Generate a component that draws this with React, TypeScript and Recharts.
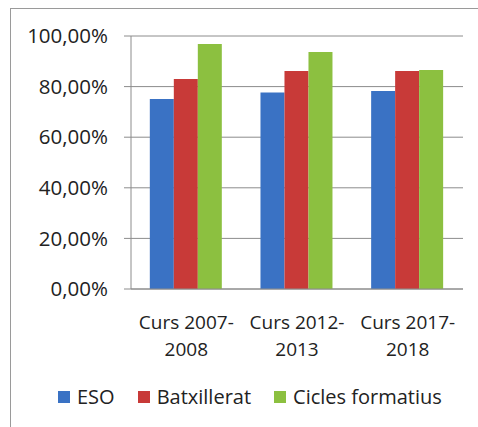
import { BarChart, Bar, XAxis, YAxis, CartesianGrid } from 'recharts';

const courses = ['Curs 2007-2008', 'Curs 2012-2013', 'Curs 2017-2018'];
const eso = [0.751, 0.777, 0.783];
const batxillerat = [0.83, 0.862, 0.862];
const cicles = [0.968, 0.937, 0.866];
const yTicks = [0, 0.2, 0.4, 0.6, 0.8, 1];

const series = [
  { key: 'eso', name: 'ESO', color: '#3a72c4' },
  { key: 'batx', name: 'Batxillerat', color: '#c83a38' },
  { key: 'cicles', name: 'Cicles formatius', color: '#8cc040' },
];

const data = courses.map((c, i) => ({
  course: c,
  eso: eso[i],
  batx: batxillerat[i],
  cicles: cicles[i],
}));

const FONT = '"Open Sans", sans-serif';

function pct(v: number) {
  return (v * 100).toFixed(2).replace('.', ',') + '%';
}

function CourseTick(props: any) {
  const { x, y, payload } = props;
  const [first, second] = (payload.value as string).split('-');
  return (
    <text x={x} y={y} textAnchor="middle" fontFamily={FONT} fontSize={19} fill="#222">
      <tspan x={x} dy={32}>{first}-</tspan>
      <tspan x={x} dy={27}>{second}</tspan>
    </text>
  );
}

function LegendRow() {
  return (
    <div
      style={{
        position: 'absolute',
        left: 58,
        top: 383,
        display: 'flex',
        fontFamily: FONT,
        fontSize: 20,
        color: '#222',
        whiteSpace: 'nowrap',
      }}
    >
      {series.map((s) => (
        <div key={s.key} style={{ display: 'flex', alignItems: 'center', marginRight: 23 }}>
          <span style={{ width: 12, height: 12, background: s.color, marginRight: 7, display: 'inline-block' }} />
          <span>{s.name}</span>
        </div>
      ))}
    </div>
  );
}

export default function App() {
  return (
    <div style={{ position: 'absolute', left: 0, top: 0, width: 478, height: 427, overflow: 'hidden', background: '#fff' }}>
      <div
        style={{
          position: 'absolute',
          left: 10,
          top: 8,
          width: 500,
          height: 500,
          border: '1.5px solid #9a9a9a',
          boxSizing: 'border-box',
        }}
      />
      <div style={{ position: 'absolute', left: 0, top: 0 }}>
        <BarChart
          width={478}
          height={427}
          data={data}
          margin={{ top: 36, right: 15, left: 0, bottom: 0 }}
          barGap={0}
          barCategoryGap="17%"
        >
          <CartesianGrid vertical={false} stroke="#8c8c8c" />
          <XAxis
            dataKey="course"
            tick={<CourseTick />}
            tickLine={false}
            axisLine={{ stroke: '#8c8c8c' }}
            interval={0}
            height={138}
          />
          <YAxis
            width={131}
            domain={[0, 1]}
            ticks={yTicks}
            tickFormatter={pct}
            tickSize={7}
            tickMargin={16}
            tickLine={{ stroke: '#8c8c8c' }}
            axisLine={{ stroke: '#8c8c8c' }}
            tick={{ fontFamily: FONT, fontSize: 20.5, fill: '#222' }}
          />
          {series.map((s) => (
            <Bar key={s.key} dataKey={s.key} name={s.name} fill={s.color} isAnimationActive={false} />
          ))}
        </BarChart>
      </div>
      <LegendRow />
    </div>
  );
}
